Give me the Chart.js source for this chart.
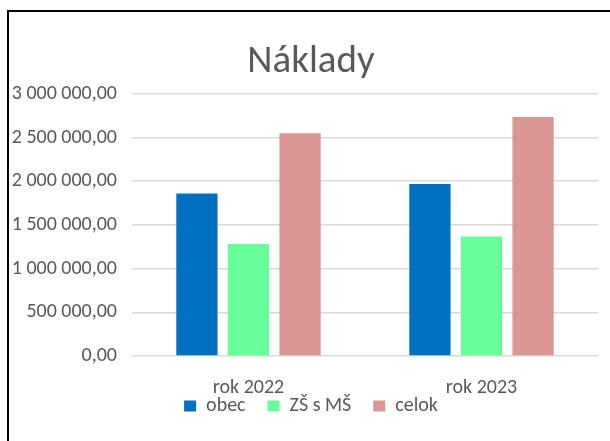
<!DOCTYPE html>
<html>
<head>
<meta charset="utf-8">
<script src="https://cdn.jsdelivr.net/npm/chart.js@4.4.1/dist/chart.umd.min.js"></script>
<style>
  body { margin: 0; background: #fff; }
  #ramec {
    position: absolute; left: 7px; top: 10px;
    width: 640px; height: 470px;
    border: 2px solid #000;
  }
  #obal { position: absolute; left: 0; top: 0; width: 610px; height: 441px; }
</style>
</head>
<body>
<div id="ramec"></div>
<div id="obal"><canvas id="naklady" width="610" height="441"></canvas></div>
<script>
// data grafu
var roky = ["rok 2022", "rok 2023"];
var obec = [1860000, 1968000];
var zsMs = [1282000, 1366000];
var celok = [2548000, 2735000];
var osY = [0, 500000, 1000000, 1500000, 2000000, 2500000, 3000000];

var pismo = "Carlito, 'Liberation Sans Narrow', 'DejaVu Sans Condensed', sans-serif";
var sedaText = "#595959";

// 3000000 -> "3 000 000,00"
function formatSuma(v){
  var cele = Math.round(v).toString().replace(/\B(?=(\d{3})+(?!\d))/g, " ");
  return cele + ",00";
}

// popisky osí sa inak orezávajú na šírku/výšku osi
var neOrezavat = {
  id: "neOrezavat",
  afterLayout: function(chart){
    chart.scales.y.left = 0;
    chart.scales.x.bottom = chart.height;
  }
};

var datos = {
  type: "bar",
  data: {
    labels: roky,
    datasets: [
      { label: "obec", data: obec, backgroundColor: "#0070C0" },
      { label: "ZŠ s MŠ", data: zsMs, backgroundColor: "#66FF99" },
      { label: "celok", data: celok, backgroundColor: "#D99694" }
    ]
  },
  options: {
    responsive: false,
    animation: false,
    categoryPercentage: 0.664,
    barPercentage: 0.80,
    layout: { padding: { left: 24, right: 12, top: 12, bottom: 15 } },
    plugins: {
      tooltip: { enabled: false },
      title: {
        display: true,
        text: "Náklady",
        color: sedaText,
        font: { family: pismo, size: 39, weight: "normal" },
        padding: { top: 27, bottom: 8 }
      },
      legend: {
        position: "bottom",
        labels: {
          color: sedaText,
          font: { family: pismo, size: 20 },
          boxWidth: 12,
          boxHeight: 11,
          padding: 22
        }
      }
    },
    scales: {
      x: {
        grid: { display: false },
        border: { display: false },
        ticks: { color: sedaText, font: { family: pismo, size: 20 }, padding: 12 },
        afterFit: function(s){ s.height = 18; }
      },
      y: {
        min: 0,
        max: osY[osY.length - 1],
        afterBuildTicks: function(s){
          s.ticks = osY.map(function(v){ return { value: v }; });
        },
        grid: { color: "#D9D9D9", lineWidth: 1.5, drawTicks: false },
        border: { display: false },
        ticks: {
          color: sedaText,
          font: { family: pismo, size: 20 },
          padding: 15,
          callback: function(v){ return formatSuma(v); }
        },
        afterFit: function(s){ s.width = 108; }
      }
    }
  },
  plugins: [neOrezavat]
};

var contenedor = document.getElementById("naklady").getContext("2d");
var graf = new Chart(contenedor, datos);
</script>
</body>
</html>
